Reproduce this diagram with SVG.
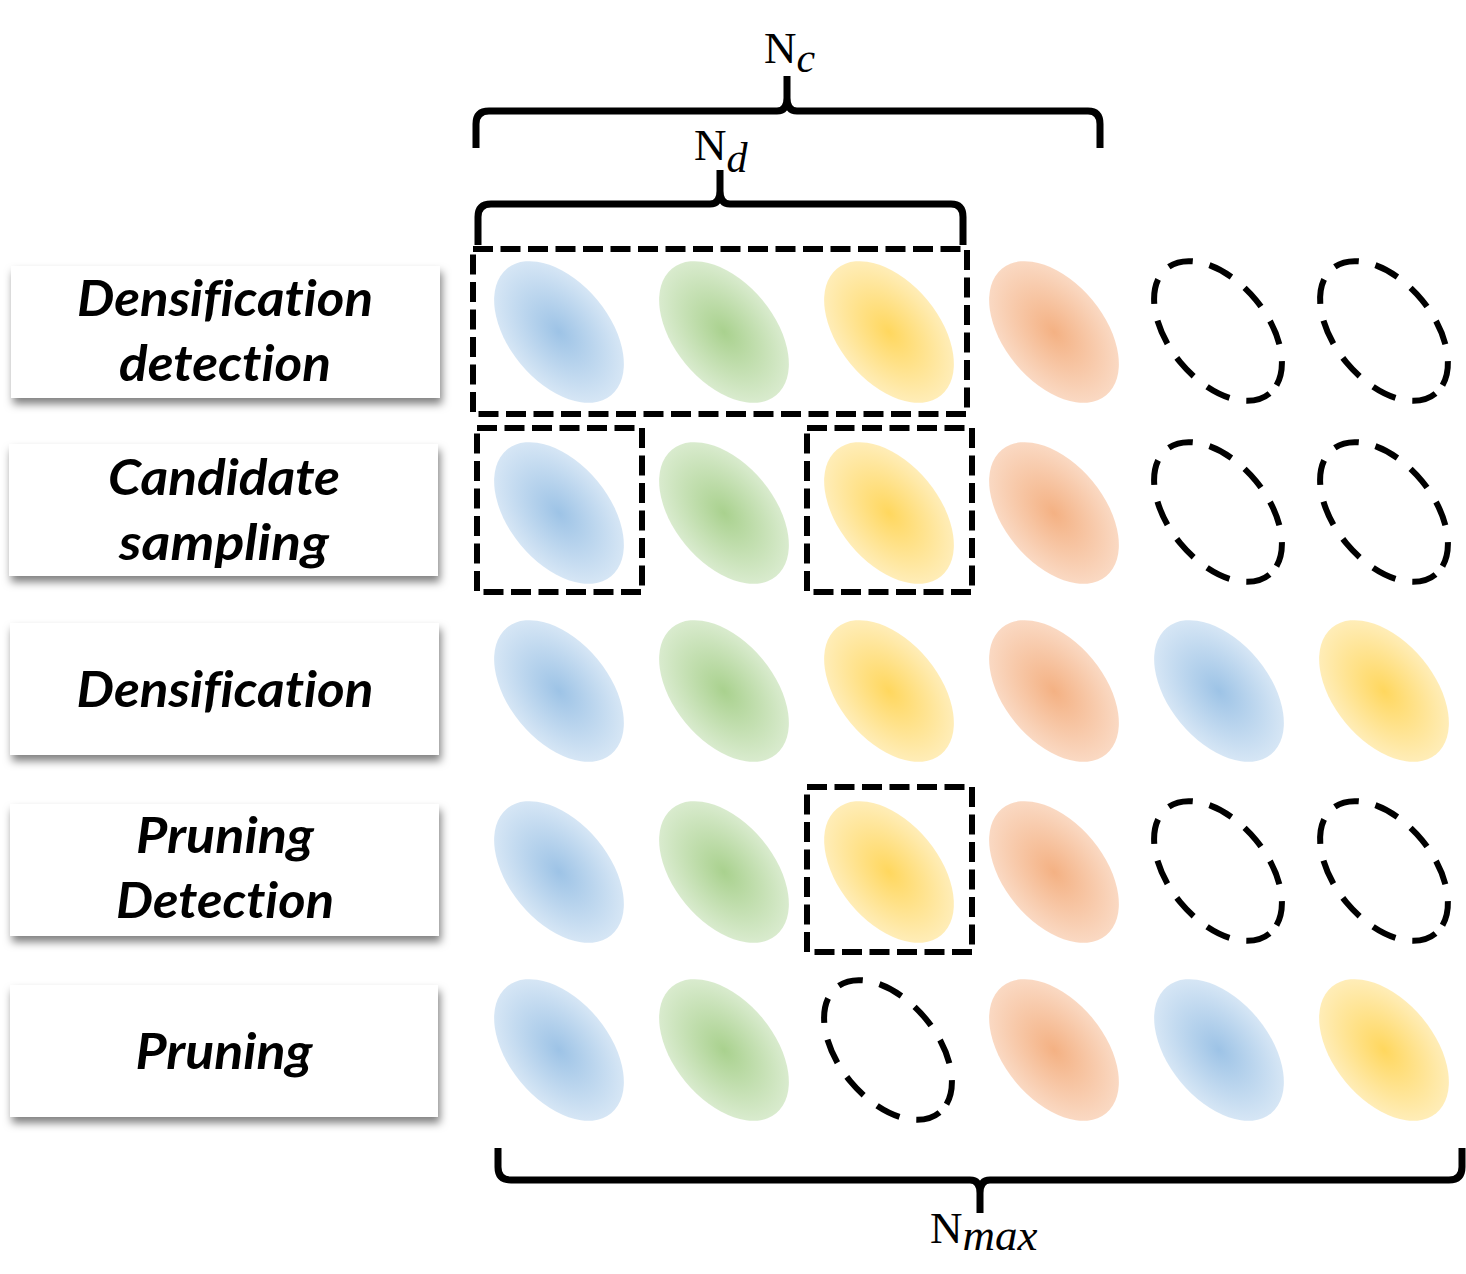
<svg xmlns="http://www.w3.org/2000/svg" xmlns:xlink="http://www.w3.org/1999/xlink" width="1466" height="1274" viewBox="0 0 1466 1274">
<defs>
<style>
.box{fill:#fff;filter:url(#sh)}
.lbl{font-family:Lato,"Open Sans","Liberation Sans",sans-serif;font-weight:700;font-style:italic;font-size:50px;fill:#000;text-anchor:middle;font-variant-ligatures:none}
.math{font-family:"Liberation Serif","DejaVu Serif",serif;font-size:45px;fill:#000}
.sub{font-style:italic}
.brace{fill:none;stroke:#000;stroke-width:7;stroke-linejoin:round;stroke-linecap:butt}
.drect{fill:none;stroke:#000;stroke-width:6;stroke-dasharray:20 7.5}
.dell{fill:none;stroke:#000;stroke-width:6;stroke-dasharray:25 17}
</style>
<filter id="sh" x="-10%" y="-20%" width="125%" height="150%">
<feDropShadow dx="2" dy="6" stdDeviation="4" flood-color="#000" flood-opacity="0.5"/>
</filter>
<radialGradient id="gB"><stop offset="0" stop-color="#9DC3E6"/><stop offset="1" stop-color="#D6E6F5"/></radialGradient>
<radialGradient id="gG"><stop offset="0" stop-color="#A9D18E"/><stop offset="1" stop-color="#D9EBCE"/></radialGradient>
<radialGradient id="gY"><stop offset="0" stop-color="#FFD75E"/><stop offset="1" stop-color="#FFEDB8"/></radialGradient>
<radialGradient id="gO"><stop offset="0" stop-color="#F4B183"/><stop offset="1" stop-color="#FAD9C3"/></radialGradient>
<ellipse id="eB" rx="82" ry="50" transform="rotate(50.5)" fill="url(#gB)"/>
<ellipse id="eG" rx="82" ry="50" transform="rotate(50.5)" fill="url(#gG)"/>
<ellipse id="eY" rx="82" ry="50" transform="rotate(50.5)" fill="url(#gY)"/>
<ellipse id="eO" rx="82" ry="50" transform="rotate(50.5)" fill="url(#gO)"/>
<ellipse id="eD" rx="81" ry="49" transform="rotate(50.5)" class="dell"/>
</defs>
<rect width="1466" height="1274" fill="#fff"/>

<g id="brace-Nc">
<path class="brace" d="M476,148 V124 Q476,111 489,111 H777 Q787,111 787,98 V76 M787,76 V98 Q787,111 797,111 H1088 Q1100,111 1100,124 V148"/>
<text class="math" x="764" y="63">N<tspan class="sub" dy="9" font-size="42">c</tspan></text>
</g>
<g id="brace-Nd">
<path class="brace" d="M478,245 V217 Q478,204 491,204 H710 Q720,204 720,191 V170 M720,170 V191 Q720,204 730,204 H951 Q963,204 963,217 V245"/>
<text class="math" x="694" y="160">N<tspan class="sub" dy="12" font-size="42">d</tspan></text>
</g>
<g id="brace-Nmax">
<path class="brace" d="M498,1148 V1167 Q498,1180 511,1180 H970 Q980,1180 980,1193 V1213 M980,1213 V1193 Q980,1180 990,1180 H1449 Q1462,1180 1462,1167 V1148"/>
<text class="math" x="930" y="1243">N<tspan class="sub" dy="7" font-size="45">max</tspan></text>
</g>

<g id="row1">
<g id="label1"><rect class="box" x="11" y="266" width="429" height="132"/>
<text class="lbl" x="225" y="316" textLength="296" lengthAdjust="spacingAndGlyphs">Densification</text>
<text class="lbl" x="225" y="381" textLength="212" lengthAdjust="spacingAndGlyphs">detection</text></g>
<use href="#eB" x="559" y="332"/><use href="#eG" x="724" y="332"/><use href="#eY" x="889" y="332"/><use href="#eO" x="1054" y="332"/>
<use href="#eD" x="1218" y="331"/><use href="#eD" x="1384" y="331"/>
<rect class="drect" x="473" y="249" width="494" height="165"/>
</g>

<g id="row2">
<g id="label2"><rect class="box" x="9" y="444" width="429" height="132"/>
<text class="lbl" x="224" y="495" textLength="232" lengthAdjust="spacingAndGlyphs">Candidate</text>
<text class="lbl" x="224" y="560" textLength="210" lengthAdjust="spacingAndGlyphs">sampling</text></g>
<use href="#eB" x="559" y="513"/><use href="#eG" x="724" y="513"/><use href="#eY" x="889" y="513"/><use href="#eO" x="1054" y="513"/>
<use href="#eD" x="1218" y="512"/><use href="#eD" x="1384" y="512"/>
<rect class="drect" x="477" y="428" width="165" height="164"/>
<rect class="drect" x="807" y="428" width="165" height="164"/>
</g>

<g id="row3">
<g id="label3"><rect class="box" x="10" y="623" width="429" height="132"/>
<text class="lbl" x="225" y="707" textLength="297" lengthAdjust="spacingAndGlyphs">Densification</text></g>
<use href="#eB" x="559" y="691"/><use href="#eG" x="724" y="691"/><use href="#eY" x="889" y="691"/><use href="#eO" x="1054" y="691"/>
<use href="#eB" x="1219" y="691"/><use href="#eY" x="1384" y="691"/>
</g>

<g id="row4">
<g id="label4"><rect class="box" x="10" y="804" width="429" height="132"/>
<text class="lbl" x="225" y="853" textLength="178" lengthAdjust="spacingAndGlyphs">Pruning</text>
<text class="lbl" x="225" y="918" textLength="218" lengthAdjust="spacingAndGlyphs">Detection</text></g>
<use href="#eB" x="559" y="872"/><use href="#eG" x="724" y="872"/><use href="#eY" x="889" y="872"/><use href="#eO" x="1054" y="872"/>
<use href="#eD" x="1218" y="871"/><use href="#eD" x="1384" y="871"/>
<rect class="drect" x="807" y="787" width="165" height="165"/>
</g>

<g id="row5">
<g id="label5"><rect class="box" x="10" y="985" width="428" height="132"/>
<text class="lbl" x="224" y="1069" textLength="177" lengthAdjust="spacingAndGlyphs">Pruning</text></g>
<use href="#eB" x="559" y="1050"/><use href="#eG" x="724" y="1050"/><use href="#eD" x="888" y="1050"/><use href="#eO" x="1054" y="1050"/>
<use href="#eB" x="1219" y="1050"/><use href="#eY" x="1384" y="1050"/>
</g>
</svg>
